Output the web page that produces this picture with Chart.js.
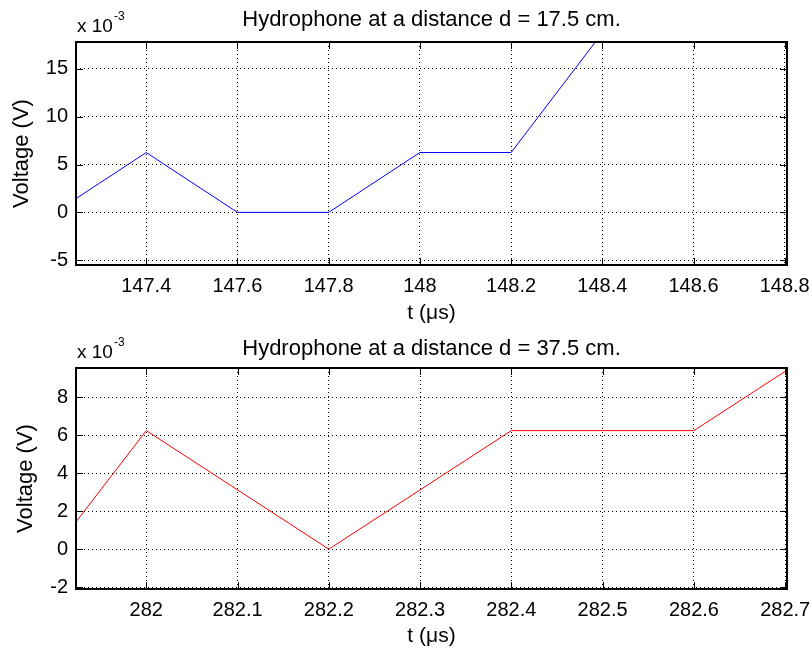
<!DOCTYPE html>
<html>
<head>
<meta charset="utf-8">
<script src="https://cdn.jsdelivr.net/npm/chart.js@4.4.1/dist/chart.umd.min.js"></script>
<style>
html, body { margin: 0; padding: 0; background: #fff; }
canvas { display: block; }
</style>
</head>
<body>
<canvas id="top" width="812" height="327"></canvas>
<canvas id="bottom" width="812" height="327"></canvas>
<script>
// sample times (µs) and hydrophone voltage (x 10^-3 V)
const time1 = [147.2, 147.4, 147.6, 147.8, 148.0, 148.2, 148.4];
const volt1 = [0, 6.25, 0, 0, 6.25, 6.25, 18.75];
const time2 = [281.8, 282.0, 282.2, 282.4, 282.6, 282.8];
const volt2 = [-6.25, 6.25, 0, 6.25, 6.25, 12.5];

// tick labels
const xTicks1 = [147.4, 147.6, 147.8, 148, 148.2, 148.4, 148.6, 148.8];
const yTicks1 = [-5, 0, 5, 10, 15];
const xTicks2 = [282, 282.1, 282.2, 282.3, 282.4, 282.5, 282.6, 282.7];
const yTicks2 = [-2, 0, 2, 4, 6, 8];

const FONT = '"Liberation Sans", Arial, Helvetica, sans-serif';

// matlab style box, inward ticks, title over the axes and the "x 10^-3" multiplier
const matlabAxes = {
    id: 'matlabAxes',
    afterDraw(chart, args, opts) {
        const {ctx, chartArea: a, scales: {x, y}} = chart;
        const len = 7;
        ctx.save();
        ctx.strokeStyle = '#000';
        ctx.lineWidth = 1;
        ctx.beginPath();
        x.ticks.forEach(t => {
            const px = Math.round(x.getPixelForValue(t.value)) + 0.5;
            ctx.moveTo(px, a.top); ctx.lineTo(px, a.top + len);
            ctx.moveTo(px, a.bottom); ctx.lineTo(px, a.bottom - len);
        });
        y.ticks.forEach(t => {
            const py = Math.round(y.getPixelForValue(t.value)) + 0.5;
            ctx.moveTo(a.left, py); ctx.lineTo(a.left + len, py);
            ctx.moveTo(a.right, py); ctx.lineTo(a.right - len, py);
        });
        ctx.stroke();
        ctx.lineWidth = 2;
        ctx.strokeRect(a.left, a.top, a.right - a.left, a.bottom - a.top);

        ctx.fillStyle = '#000';
        ctx.textAlign = 'center';
        ctx.textBaseline = 'middle';
        ctx.font = '22px ' + FONT;
        ctx.fillText(opts.title, (a.left + a.right) / 2, a.top - opts.titleGap);

        ctx.textAlign = 'left';
        ctx.textBaseline = 'alphabetic';
        ctx.font = '19px ' + FONT;
        ctx.fillText('x 10', a.left + 1, a.top - 10);
        const w = ctx.measureText('x 10').width;
        ctx.font = '12px ' + FONT;
        ctx.fillText('-3', a.left + 2 + w, a.top - 22);
        ctx.restore();
    }
};

function makeChart(id, times, volts, color, title, xTicks, yTicks, xMin, xMax, yMin, yMax, opt) {
    return new Chart(document.getElementById(id), {
        type: 'line',
        data: {
            datasets: [{
                data: times.map((t, i) => ({x: t, y: volts[i]})),
                borderColor: color,
                borderWidth: 1,
                pointRadius: 0,
                tension: 0,
                fill: false
            }]
        },
        options: {
            responsive: false,
            animation: false,
            devicePixelRatio: 1,
            layout: {padding: {left: 0, right: 25, top: opt.top, bottom: 0}},
            plugins: {
                legend: {display: false},
                tooltip: {enabled: false},
                title: {display: false},
                matlabAxes: {title: title, titleGap: opt.titleGap}
            },
            scales: {
                x: {
                    type: 'linear',
                    min: xMin,
                    max: xMax,
                    afterBuildTicks: s => { s.ticks = xTicks.map(v => ({value: v})); },
                    afterFit: s => { s.height = opt.xHeight; s.paddingLeft = 0; s.paddingRight = 0; },
                    ticks: {
                        autoSkip: false, maxRotation: 0, padding: 9, color: '#000',
                        font: {family: FONT, size: 20},
                        callback: v => String(v)
                    },
                    grid: {color: '#000', lineWidth: 1, drawTicks: false},
                    border: {display: false, dash: [1, 3]},
                    title: {
                        display: true, text: 't (μs)', color: '#000',
                        font: {family: FONT, size: 21},
                        padding: {top: 0, bottom: opt.xTitleBottom}
                    }
                },
                y: {
                    min: yMin,
                    max: yMax,
                    afterBuildTicks: s => { s.ticks = yTicks.map(v => ({value: v})); },
                    afterFit: s => { s.width = 76; s.paddingTop = 0; s.paddingBottom = 0; },
                    ticks: {
                        padding: 8, color: '#000',
                        font: {family: FONT, size: 20},
                        callback: v => String(v)
                    },
                    grid: {color: '#000', lineWidth: 1, drawTicks: false},
                    border: {display: false, dash: [1, 3]},
                    title: {
                        display: true, text: 'Voltage (V)', color: '#000',
                        font: {family: FONT, size: 22},
                        padding: {top: opt.yTitleLeft, bottom: 0}
                    }
                }
            }
        },
        plugins: [matlabAxes]
    });
}

makeChart('top', time1, volt1, '#0000ff', 'Hydrophone at a distance d = 17.5 cm.',
    xTicks1, yTicks1, 147.246, 148.805, -5.5, 17.8,
    {top: 42, titleGap: 22, xHeight: 62, xTitleBottom: 1.4, yTitleLeft: 8.8});

makeChart('bottom', time2, volt2, '#ff0000', 'Hydrophone at a distance d = 37.5 cm.',
    xTicks2, yTicks2, 281.923, 282.702, -2.1, 9.55,
    {top: 41, titleGap: 19, xHeight: 65, xTitleBottom: 5.4, yTitleLeft: 12.8});
</script>
</body>
</html>
